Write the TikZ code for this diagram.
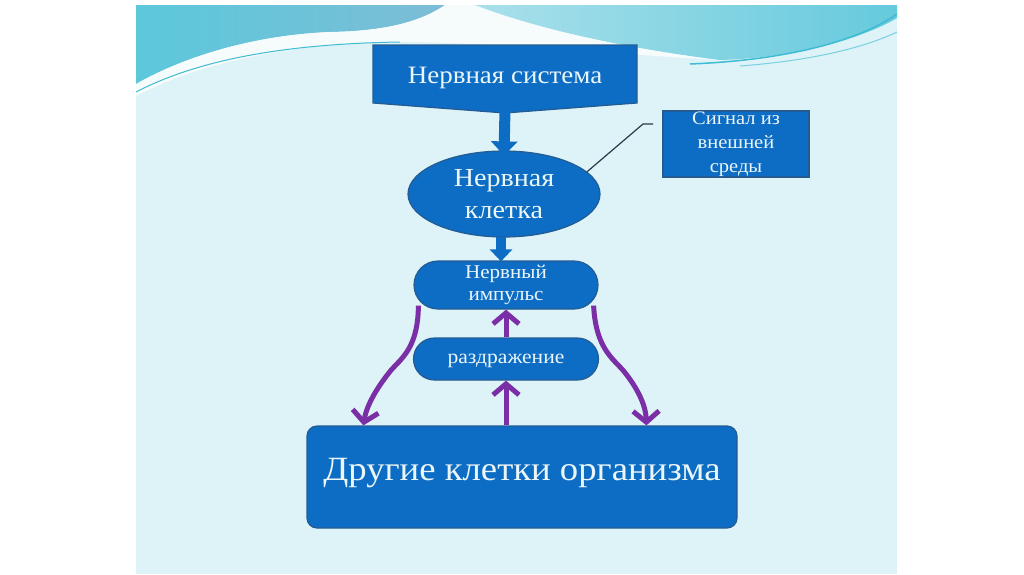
\documentclass[tikz,border=0pt]{standalone}
\usepackage{fontspec}
\setmainfont{Liberation Serif}[FakeStretch=1.08]
\usetikzlibrary{arrows.meta,shapes.geometric,calc}
\definecolor{bg}{HTML}{DDF3F7}
\definecolor{boxblue}{HTML}{0D6CC4}
\definecolor{boxedge}{HTML}{245C92}
\definecolor{txt}{HTML}{EAF6F7}
\definecolor{purp}{HTML}{7B2FA6}
\definecolor{teal1}{HTML}{5CC8DB}
\definecolor{teal2}{HTML}{7CBDD6}
\definecolor{cyan1}{HTML}{A9E0EA}
\definecolor{cyan2}{HTML}{66CADD}
\definecolor{teal3}{HTML}{3FBCD3}
\definecolor{linec}{HTML}{2B3A48}
\tikzset{
  bluebox/.style={draw=boxedge, line width=1.2pt, fill=boxblue, text=txt, align=center, inner sep=0pt},
  parrow/.style={draw=purp, line width=5pt, -{Straight Barb[length=11pt,width=26pt]}},
  barrow/.style={draw=boxblue, line width=11pt, -{Triangle[length=14pt,width=26pt]}},
  barrowb/.style={draw=boxblue, line width=10pt, -{Triangle[length=12pt,width=22pt]}},
}
\begin{document}
\begin{tikzpicture}[x=1pt,y=-1pt]
\useasboundingbox (0,0) rectangle (1024,574);
\fill[white] (0,0) rectangle (1024,574);
\fill[bg] (136,5) rectangle (897,574);
\begin{scope}
\clip (136,5) rectangle (897,574);
\shade[left color=teal1,right color=teal2] (136,5) -- (445,5) .. controls (420,22) and (385,31) .. (330,32) .. controls (255,35) and (185,56) .. (136,84) -- cycle;
\fill[white,opacity=0.75] (136,84) .. controls (185,56) and (255,35) .. (330,32) .. controls (385,31) and (420,22) .. (445,5) -- (475,5) .. controls (530,26) and (610,46) .. (720,60) .. controls (610,54) and (460,40) .. (380,42) .. controls (265,46) and (185,70) .. (136,96) -- cycle;
\shade[left color=cyan1,right color=cyan2] (475,5) -- (897,5) -- (897,18) .. controls (860,40) and (790,58) .. (720,60) .. controls (610,46) and (530,26) .. (475,5) -- cycle;
\draw[teal3,line width=1pt] (136,92) .. controls (190,64) and (270,44) .. (400,42);
\draw[teal3,line width=1.5pt] (690,64) .. controls (790,60) and (860,40) .. (897,14);
\draw[teal3!70,line width=1pt] (740,66) .. controls (820,60) and (870,45) .. (897,32);
\end{scope}
% Nervous system block arrow shape
\filldraw[fill=boxblue,draw=boxedge,line width=1.2pt] (373,45) -- (637,45) -- (637,103) -- (505,113) -- (373,103) -- cycle;
\node[inner sep=0pt, minimum width=264pt, minimum height=58pt, text=txt, font=\fontsize{25}{30}\selectfont] (ns) at (505,78) {Нервная система};
\node[bluebox, ellipse, minimum width=192pt, minimum height=86pt, font=\fontsize{26}{32}\selectfont] (cell) at (504,194) {Нервная\\клетка};
\node[bluebox, rectangle, minimum width=146pt, minimum height=66pt, font=\fontsize{19}{24}\selectfont] (sig) at (736,144) {Сигнал из\\внешней\\среды};
\node[bluebox, rounded corners=24pt, minimum width=184pt, minimum height=48pt, font=\fontsize{19.5}{22}\selectfont] (imp) at (506,285) {Нервный\\импульс};
\node[bluebox, rounded corners=21pt, minimum width=185pt, minimum height=42pt, font=\fontsize{20}{22}\selectfont, text height=0.96em, text depth=0.1em] (raz) at (506,359) {раздражение};
\node[bluebox, rounded corners=10pt, minimum width=430pt, minimum height=102pt] (other) at (522,477) {};
\node[text=txt, font=\fontsize{34}{40}\selectfont, inner sep=0pt] (otherlbl) at (522,473) {Другие клетки организма};
% connectors
\draw[barrow] ($(ns.south)+(0,2)$) -- ($(cell.north)+(0,5)$);
\draw[barrowb] ($(cell.south)+(-3,-1)$) -- ($(imp.north)+(-5,1)$);
\coordinate (sigtail) at (653,124);
\draw[draw=linec, line width=1.2pt] (cell.15) -- (643,124) -- (sigtail);
\draw[parrow] ($(imp.south west)+(5,-4)$) .. controls (418,352) and (398,360) .. (388,374) .. controls (374,392) and (366,408) .. ($(other.north west)+(57,0)$);
\draw[parrow] ($(imp.south east)+(-5,-4)$) .. controls (596,352) and (616,360) .. (626,374) .. controls (640,392) and (646,408) .. ($(other.north west)+(340,0)$);
\draw[parrow] (other.north -| raz.south) -- (raz.south);
\draw[parrow] (raz.north) -- (imp.south);
\end{tikzpicture}
\end{document}
